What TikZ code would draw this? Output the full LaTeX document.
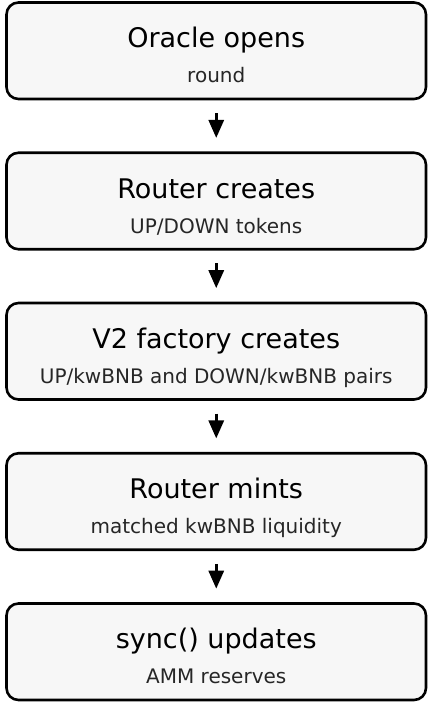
\documentclass[tikz,border=0pt]{standalone}
\usepackage{fontspec}
\setmainfont{DejaVu Sans}
\usetikzlibrary{positioning,arrows.meta}
\definecolor{boxfill}{HTML}{F7F7F7}
\begin{document}
\begin{tikzpicture}[line join=round,x=1pt,y=-1pt,
  box/.style={draw,line width=2.6pt,rounded corners=12pt,fill=boxfill,minimum width=419.5pt,minimum height=96.5pt},
  ttl/.style={anchor=base,inner sep=0pt,font=\fontsize{27}{32}\selectfont},
  sub/.style={anchor=base,inner sep=0pt,text=black!85,font=\fontsize{20}{24}\selectfont},
  flow/.style={-{Triangle[length=18pt,width=15pt]},line width=3pt,shorten <=12.7pt,shorten >=13.5pt}]
\useasboundingbox (0,0) rectangle (428,702);
\foreach \ttltext/\subtext [count=\i] in {{Oracle opens}/{round},{Router creates}/{UP/DOWN tokens},{V2 factory creates}/{UP/kwBNB and DOWN/kwBNB pairs},{Router mints}/{matched kwBNB liquidity},{sync() updates}/{AMM reserves}}{
\node[box] (b\i) at (216.25,{50.75+150.25*(\i-1)}) {};
\path (b\i.center) ++(0,-3) node[ttl] (t\i) {\ttltext} ++(0,35) node[sub] (s\i) {\subtext};
}
\foreach \i [count=\j from 2] in {1,...,4}
\draw[flow] (b\i) -- (b\j);
\end{tikzpicture}
\end{document}
